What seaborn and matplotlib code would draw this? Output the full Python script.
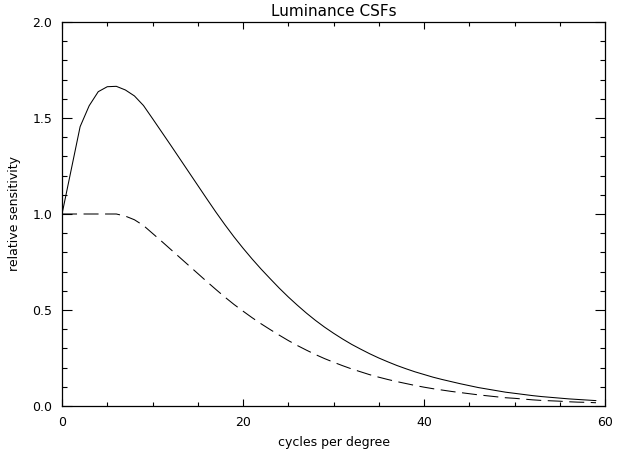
import matplotlib
matplotlib.use("Agg")
import matplotlib.pyplot as plt
import seaborn as sns
import pandas as pd
from matplotlib.ticker import MultipleLocator, FormatStrFormatter

# spatial frequency samples (cycles per degree)
freq = [0, 2, 3, 4, 5, 6, 7, 8, 9, 10, 11, 12, 13, 14, 15, 16, 17, 18, 19, 20,
        21, 22, 23, 24, 25, 26, 27, 28, 29, 30, 31, 32, 33, 34, 35, 36, 37, 38, 39, 40,
        41, 42, 43, 44, 45, 46, 47, 48, 49, 50, 51, 52, 53, 54, 55, 56, 57, 58, 59]

# band-pass luminance CSF (solid)
csf_bandpass = [1.0, 1.455, 1.564, 1.637, 1.663, 1.665, 1.646, 1.615, 1.565, 1.497,
                1.428, 1.359, 1.289, 1.219, 1.149, 1.079, 1.010, 0.944, 0.881, 0.822,
                0.766, 0.713, 0.663, 0.614, 0.568, 0.525, 0.484, 0.446, 0.411, 0.379,
                0.349, 0.321, 0.296, 0.272, 0.250, 0.230, 0.211, 0.194, 0.178, 0.164,
                0.150, 0.138, 0.127, 0.116, 0.106, 0.096, 0.088, 0.080, 0.072, 0.066,
                0.060, 0.054, 0.049, 0.045, 0.041, 0.037, 0.034, 0.031, 0.028]

# low-pass luminance CSF (dashed)
csf_lowpass = [1.0, 1.0, 1.0, 1.0, 1.0, 1.0, 0.989, 0.970, 0.940, 0.899,
               0.858, 0.816, 0.774, 0.732, 0.690, 0.648, 0.607, 0.567, 0.529, 0.494,
               0.460, 0.428, 0.398, 0.369, 0.341, 0.315, 0.291, 0.268, 0.247, 0.228,
               0.210, 0.193, 0.178, 0.163, 0.150, 0.138, 0.127, 0.117, 0.107, 0.098,
               0.090, 0.083, 0.076, 0.070, 0.064, 0.058, 0.053, 0.048, 0.043, 0.040,
               0.036, 0.032, 0.029, 0.027, 0.025, 0.022, 0.020, 0.019, 0.017]

title = "Luminance CSFs"
xlabel = "cycles per degree"
ylabel = "relative sensitivity"

sns.set_theme(style="ticks")
plt.rcParams['font.family'] = ['DejaVu Sans']
plt.rcParams['text.color'] = 'black'
plt.rcParams['axes.labelcolor'] = 'black'
plt.rcParams['xtick.color'] = 'black'
plt.rcParams['ytick.color'] = 'black'
plt.rcParams['lines.scale_dashes'] = False

df = pd.DataFrame({
    "f": freq * 2,
    "s": csf_bandpass + csf_lowpass,
    "kind": ["bandpass"] * len(freq) + ["lowpass"] * len(freq),
})

fig = plt.figure(figsize=(6.24, 4.51), dpi=100)
ax = fig.add_axes([0.0994, 0.0998, 0.8702, 0.8514])

sns.lineplot(data=df[df.kind == "bandpass"], x="f", y="s", ax=ax,
             color="black", legend=False)
sns.lineplot(data=df[df.kind == "lowpass"], x="f", y="s", ax=ax,
             color="black", legend=False)
for ln in ax.lines:
    ln.set_linewidth(0.75)
ax.lines[1].set_linestyle((0, (10.8, 4.7)))

ax.set_xlim(0, 60)
ax.set_ylim(0, 2.0)
ax.xaxis.set_major_locator(MultipleLocator(20))
ax.xaxis.set_minor_locator(MultipleLocator(5))
ax.yaxis.set_major_locator(MultipleLocator(0.5))
ax.yaxis.set_minor_locator(MultipleLocator(0.1))
ax.yaxis.set_major_formatter(FormatStrFormatter("%.1f"))

ax.tick_params(axis="x", which="major", direction="in", length=5, width=0.8,
               top=True, bottom=True, labelsize=9, pad=7)
ax.tick_params(axis="x", which="minor", direction="in", length=2.7, width=0.8,
               top=True, bottom=True)
ax.tick_params(axis="y", which="major", direction="in", length=7.5, width=0.8,
               left=True, right=True, labelsize=9, pad=7)
ax.tick_params(axis="y", which="minor", direction="in", length=3.8, width=0.8,
               left=True, right=True)
for sp in ax.spines.values():
    sp.set_visible(True)
    sp.set_linewidth(0.9)
    sp.set_color("black")

ax.set_title(title, fontsize=11, pad=4, color="black")
ax.set_xlabel(xlabel, fontsize=9, labelpad=5)
ax.set_ylabel(ylabel, fontsize=9, labelpad=8)

fig.savefig("out.png", dpi=100)
